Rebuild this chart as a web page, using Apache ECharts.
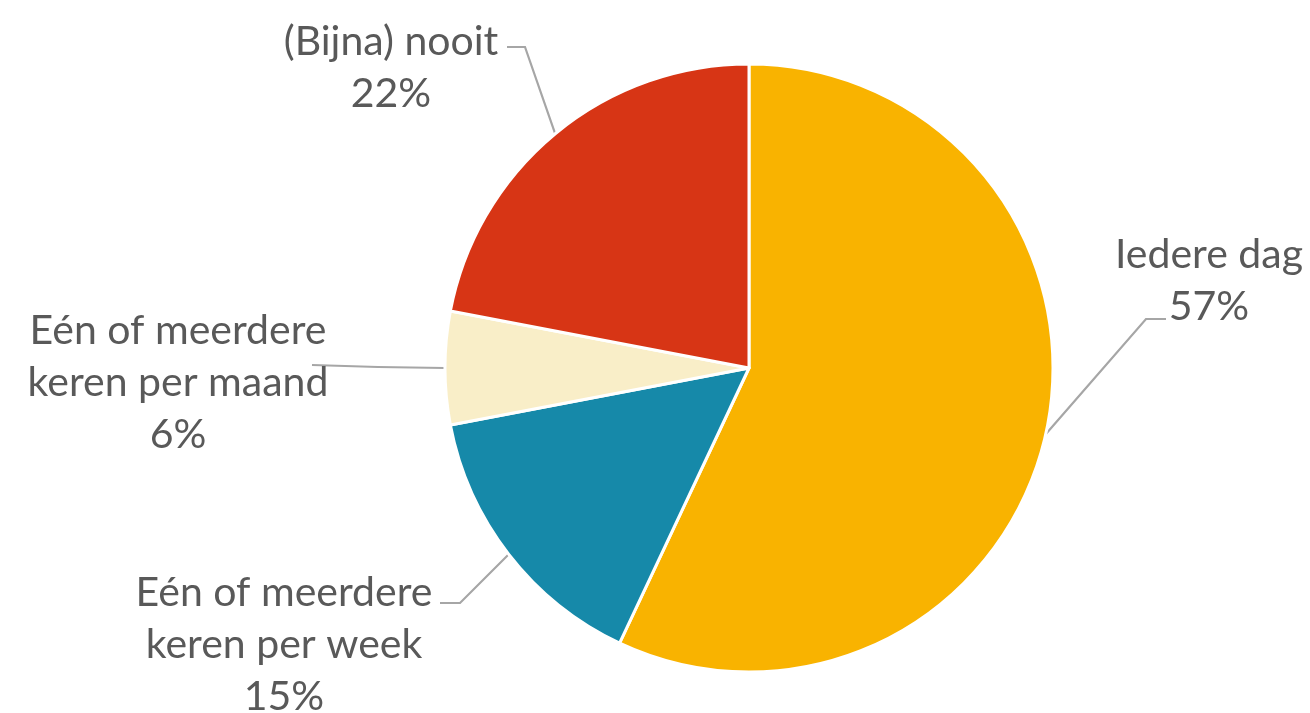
<!DOCTYPE html>
<html>
<head>
<meta charset="utf-8">
<script src="https://cdn.jsdelivr.net/npm/echarts@6/dist/echarts.min.js"></script>
<style>
html,body{margin:0;padding:0;background:#fff;}
#chart{width:1310px;height:713px;}
</style>
</head>
<body>
<div id="chart"></div>
<script>
var categories = ['Iedere dag', 'Eén of meerdere\nkeren per week', 'Eén of meerdere\nkeren per maand', '(Bijna) nooit'];
var values = [57, 15, 6, 22];
var colors = ['#F9B300', '#1689A9', '#F9EEC8', '#D73515'];

// label placement (style only)
var labelPlace = [
  {x: 1209, y: 281, line: [[1146, 319], [1166, 319]]},
  {x: 284, y: 645, line: [[460, 603], [440, 603]]},
  {x: 178, y: 383, line: [[378, 367], [312, 365]]},
  {x: 391, y: 68, line: [[525, 47], [507, 47]]}
];

var chart = echarts.init(document.getElementById('chart'), null, {renderer: 'canvas'});
chart.setOption({
  animation: false,
  series: [{
    type: 'pie',
    center: [749, 368],
    radius: 304,
    startAngle: 90,
    clockwise: true,
    avoidLabelOverlap: false,
    data: categories.map(function (c, i) {
      return {name: c, value: values[i], itemStyle: {color: colors[i]}};
    }),
    itemStyle: {borderColor: '#ffffff', borderWidth: 3},
    label: {
      show: true,
      formatter: function (p) { return p.name + '\n' + Math.round(p.percent) + '%'; },
      fontFamily: 'Lato',
      fontSize: 41,
      lineHeight: 52,
      color: '#595959',
      align: 'center'
    },
    labelLine: {show: true, length: 20, length2: 20, lineStyle: {color: '#A6A6A6', width: 2.2}},
    emphasis: {disabled: true},
    labelLayout: function (params) {
      var lp = labelPlace[params.dataIndex];
      var start = params.labelLinePoints ? params.labelLinePoints[0] : lp.line[0];
      return {
        x: lp.x,
        y: lp.y,
        align: 'center',
        verticalAlign: 'middle',
        labelLinePoints: [start, lp.line[0], lp.line[1]]
      };
    }
  }]
});
</script>
</body>
</html>
